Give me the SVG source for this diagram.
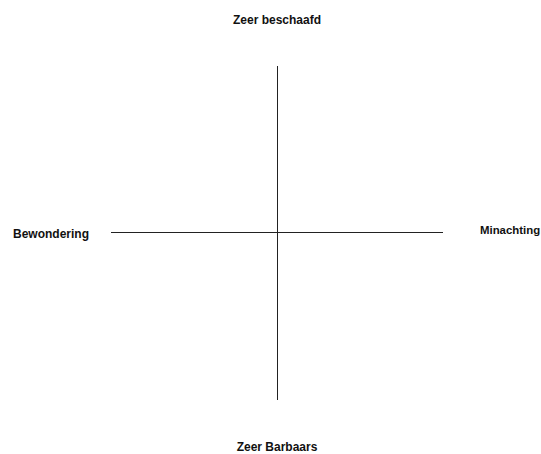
<svg xmlns="http://www.w3.org/2000/svg" width="541" height="454" viewBox="0 0 541 454">
<style>
text{font-family:"Liberation Sans",Arial,sans-serif;font-size:12px;font-weight:bold;fill:#111}
.ax{stroke:#222;stroke-width:1;fill:none}
</style>
<rect width="541" height="454" fill="#fff"/>
<g id="connectors">
<line class="ax" x1="277.5" y1="66" x2="277.5" y2="400"/>
<line class="ax" x1="111" y1="232.5" x2="443" y2="232.5"/>
</g>
<g id="top"><text x="277" y="24" text-anchor="middle">Zeer beschaafd</text></g>
<g id="left"><text x="13" y="238">Bewondering</text></g>
<g id="right"><text x="480" y="234" style="font-size:11.4px">Minachting</text></g>
<g id="bottom"><text x="277" y="451" text-anchor="middle">Zeer Barbaars</text></g>
</svg>
